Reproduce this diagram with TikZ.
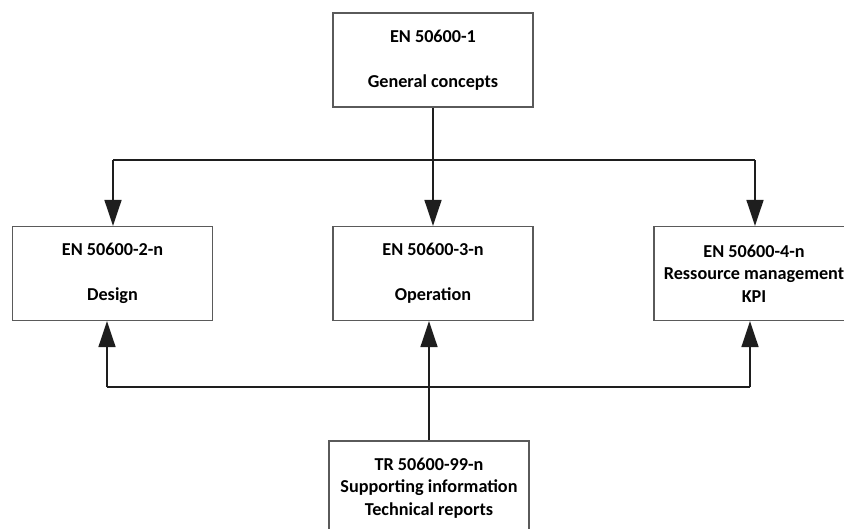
\documentclass[tikz,border=0pt]{standalone}
\usepackage{fontspec}
\setmainfont{Carlito}
\usetikzlibrary{arrows.meta}
\definecolor{boxgray}{HTML}{5A5A5A}
\definecolor{linegray}{HTML}{1E1E1E}
\begin{document}
\begin{tikzpicture}[x=1pt,y=-1pt,
  box/.style={draw=boxgray,line width=1.3pt,minimum width=200pt,minimum height=94pt,
    inner sep=0pt,align=center,font=\fontsize{18.2}{22.5}\selectfont\bfseries},
  conn/.style={line width=1.7pt,draw=linegray},
  arr/.style={conn,-{Triangle[length=26pt,width=17pt]}}]
\fill[white] (0,0) rectangle (844,528);
\useasboundingbox (0,0) rectangle (844,528);

\node[box] (top) at (433,60) {EN 50600-1\\[22.5pt]General concepts};
\node[box] (left) at (112.5,273.5) {EN 50600-2-n\\[22.5pt]Design};
\node[box] (mid) at (433,273.5) {EN 50600-3-n\\[22.5pt]Operation};
\node[box] (right) at (754,273.5) {EN 50600-4-n\\Ressource management\\KPI};
\node[box] (bot) at (429,488) {TR 50600-99-n\\Supporting information\\Technical reports};

\coordinate (hy) at (0,160);
\coordinate (aL) at (113,160);
\coordinate (aR) at (755,160);
\coordinate (bL) at (107,387);
\coordinate (bR) at (750,387);

\draw[conn] (top.south) -- (top.south |- hy);
\draw[conn] (aL) -- (aR);
\draw[arr] (aL) -- (aL |- left.north);
\draw[arr] (top.south |- hy) -- (mid.north);
\draw[arr] (aR) -- (aR |- right.north);

\draw[conn] (bL) -- (bR);
\draw[arr] (bL) -- (bL |- left.south);
\draw[arr] (bR) -- (bR |- right.south);
\draw[arr] (bot.north) -- (bot.north |- mid.south);
\end{tikzpicture}
\end{document}
